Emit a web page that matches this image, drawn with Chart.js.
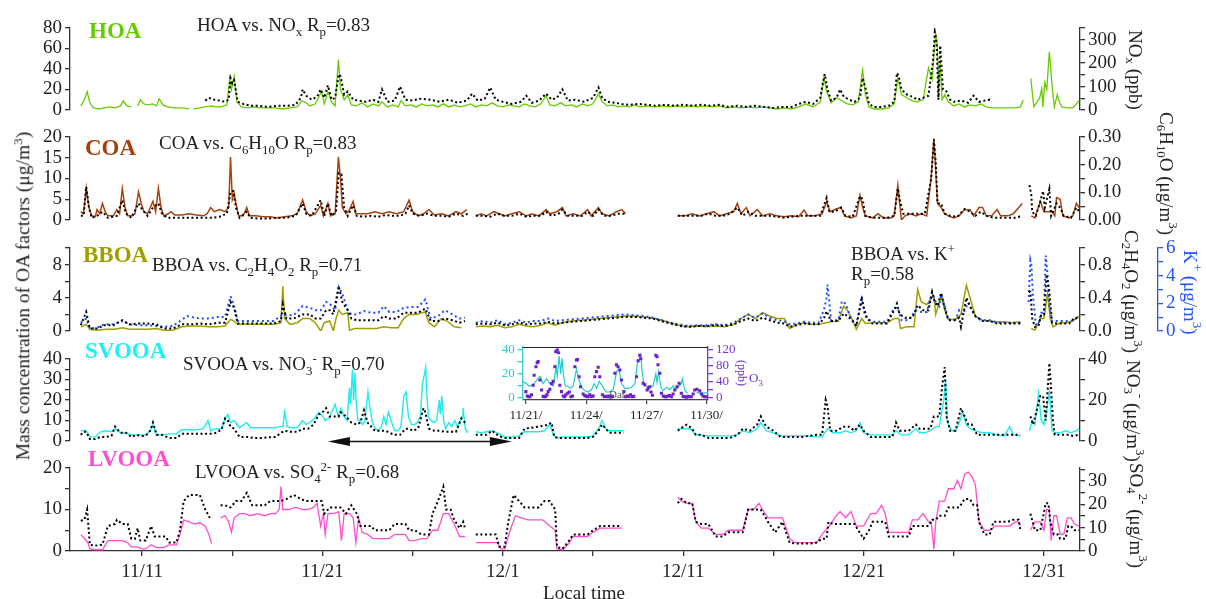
<!DOCTYPE html>
<html><head><meta charset="utf-8">
<script src="https://cdn.jsdelivr.net/npm/chart.js@4"></script>
<style>
body{margin:0;background:#fff;}
#wrap{position:relative;width:1206px;height:599px;overflow:hidden;font-family:'Liberation Serif','Times New Roman',serif;color:#222;}
canvas{position:absolute;}
.t{position:absolute;white-space:nowrap;line-height:1;z-index:5;}
.ann{font-size:19px;}
.ttl{font-size:23px;font-weight:bold;}
.v{writing-mode:vertical-rl;font-size:19px;}
sub,sup{font-size:0.68em;line-height:0;}
</style></head>
<body><div id="wrap">
<div class="t ttl" style="left:89px;top:19px;color:#66cc00">HOA</div>
<div class="t ann" style="left:197px;top:15px">HOA vs. NO<sub>x</sub> R<sub>p</sub>=0.83</div>
<div class="t ttl" style="left:85px;top:136px;color:#a5400d">COA</div>
<div class="t ann" style="left:159px;top:133px">COA vs. C<sub>6</sub>H<sub>10</sub>O R<sub>p</sub>=0.83</div>
<div class="t ttl" style="left:83px;top:243px;color:#9f9f00">BBOA</div>
<div class="t ann" style="left:152px;top:255px">BBOA vs. C<sub>2</sub>H<sub>4</sub>O<sub>2</sub> R<sub>p</sub>=0.71</div>
<div class="t ann" style="left:851px;top:244px">BBOA vs. K<sup>+</sup></div>
<div class="t ann" style="left:851px;top:264px">R<sub>p</sub>=0.58</div>
<div class="t ttl" style="left:85px;top:339px;color:#1ff0f0">SVOOA</div>
<div class="t ann" style="left:183px;top:354px">SVOOA vs. NO<sub>3</sub><sup>-</sup> R<sub>p</sub>=0.70</div>
<div class="t ttl" style="left:88px;top:447px;color:#ff4fd0">LVOOA</div>
<div class="t ann" style="left:195px;top:462px">LVOOA vs. SO<sub>4</sub><sup>2-</sup> R<sub>p</sub>=0.68</div>

<div class="t v" style="left:1126px;top:30px">NO<sub>x</sub> (ppb)</div>
<div class="t v" style="left:1157px;top:112px">C<sub>6</sub>H<sub>10</sub>O (μg/m<sup>3</sup>)</div>
<div class="t v" style="left:1122px;top:230px">C<sub>2</sub>H<sub>4</sub>O<sub>2</sub> (μg/m<sup>3</sup>)</div>
<div class="t v" style="left:1181px;top:250px;color:#2255ff">K<sup>+</sup> (μg/m<sup>3</sup>)</div>
<div class="t v" style="left:1124px;top:360px">NO<sub>3</sub><sup>-</sup> (μg/m<sup>3</sup>)</div>
<div class="t v" style="left:1127px;top:463px">SO<sub>4</sub><sup>2-</sup> (μg/m<sup>3</sup>)</div>

<div class="t" style="left:23px;top:296px;font-size:19.5px;transform:translate(-50%,-50%) rotate(-90deg);">Mass concentration of OA factors (μg/m<sup>3</sup>)</div>
<div class="t" style="left:584px;top:583px;font-size:19px;transform:translateX(-50%)">Local time</div>

<div class="t" style="left:736px;top:360px;font-size:12px;writing-mode:vertical-rl;color:#7030d0">(ppb)</div>
<div class="t" style="left:749px;top:371px;font-size:13px;color:#7030d0">O<sub>3</sub></div>
<div class="t" style="left:609px;top:389px;font-size:11px;color:#555">Dat</div>
</div>
<script>
// ---------- DATA (time = days since 11/1 00:00, so 11/11 = 10) ----------
const xTickVals = [10,15,20,25,30,35,40,45,50,55,60];
const xTickLabels = ['11/11','','11/21','','12/1','','12/11','','12/21','','12/31'];
const insetTickVals = [20,23,26,29];
const insetTickLabels = ['11/21/','11/24/','11/27/','11/30/'];

const hoaTicks=[0,20,40,60,80], hoaLabels=['0','20','40','60','80'];
const noxTicks=[0,50,100,150,200,250,300,350], noxLabels=['0','','100','','200','','300',''];
const coaTicks=[0,5,10,15,20], coaLabels=['0','5','10','15','20'];
const c6Ticks=[0,0.05,0.10,0.15,0.20,0.25,0.30], c6Labels=['0.00','','0.10','','0.20','','0.30'];
const bboaTicks=[0,2,4,6,8,10], bboaLabels=['0','','4','','8',''];
const c2Ticks=[0,0.2,0.4,0.6,0.8,1.0], c2Labels=['0.0','','0.4','','0.8',''];
const kTicks=[0,1,2,3,4,5,6], kLabels=['0','','2','','4','','6'];
const svTicks=[0,5,10,15,20,25,30,35,40], svLabels=['0','','10','','20','','30','','40'];
const no3Ticks=[0,10,20,30,40], no3Labels=['0','','20','','40'];
const lvTicks=[0,5,10,15,20], lvLabels=['0','','10','','20'];
const so4Ticks=[0,5,10,15,20,25,30,35], so4Labels=['0','','10','','20','','30',''];
const inLTicks=[0,10,20,30,40], inLLabels=['0','','20','','40'];
const inRTicks=[0,20,40,60,80,100,120], inRLabels=['0','','40','','80','','120'];
const arrowSpan=[20.3,30.5];

const hoaLine=[[6.6,4],[6.8,10],[6.95,18],[7.1,7],[7.3,2],[7.6,1],[7.9,2],[8.2,3],[8.5,2],[8.8,4],[8.95,9],[9.15,4],[9.4,3],[9.45,null],[9.75,4],[9.9,10],[10.1,6],[10.3,5],[10.6,6],[10.8,4],[10.95,11],[11.15,5],[11.4,3],[11.8,2],[12.2,2],[12.6,1],[12.7,null],[12.85,1],[13.2,2],[13.5,3],[13.8,4],[14.1,3],[14.4,3],[14.7,5],[14.85,30],[14.95,20],[15.1,33],[15.25,8],[15.5,3],[15.8,2],[16.2,3],[16.6,2],[17,2],[17.4,2],[17.8,1],[18.2,2],[18.6,3],[18.85,9],[19.1,7],[19.3,4],[19.6,6],[19.95,18],[20.1,6],[20.3,18],[20.5,8],[20.7,4],[20.88,49],[21.0,20],[21.2,10],[21.4,15],[21.6,5],[21.9,4],[22.2,7],[22.5,3],[22.8,6],[23.1,4],[23.3,8],[23.6,3],[23.9,5],[24.2,3],[24.35,9],[24.6,4],[24.9,5],[25.2,3],[25.5,6],[25.8,4],[26.1,5],[26.4,3],[26.7,6],[27,3],[27.3,5],[27.6,3],[27.9,4],[28.2,6],[28.5,3],[28.8,5],[29.1,4],[29.4,7],[29.7,4],[30,3],[30.3,5],[30.6,4],[30.9,3],[31.2,6],[31.5,4],[31.8,3],[32.1,6],[32.4,14],[32.6,5],[32.9,4],[33.2,7],[33.5,4],[33.8,5],[34.1,3],[34.4,6],[34.7,4],[35.0,6],[35.3,16],[35.5,8],[35.8,4],[36.1,5],[36.4,3],[36.7,4],[37,3],[37.3,5],[37.6,3],[38,4],[38.4,3],[38.8,4],[39.2,3],[39.6,4],[40,3],[40.4,4],[40.8,3],[41.2,4],[41.6,3],[42,4],[42.4,2],[42.8,3],[43.2,2],[43.6,3],[44,2],[44.4,3],[44.8,2],[45.2,1],[45.6,2],[46,1],[46.4,3],[46.8,6],[47.2,3],[47.6,8],[47.8,32],[47.95,18],[48.2,7],[48.5,12],[48.8,9],[49.1,6],[49.4,5],[49.7,8],[49.95,39],[50.1,15],[50.3,3],[50.6,1],[51,1],[51.4,2],[51.7,6],[51.9,31],[52.1,15],[52.4,12],[52.7,9],[53,8],[53.3,10],[53.6,41],[53.8,30],[54.0,75],[54.1,60],[54.15,12],[54.25,46],[54.35,10],[54.5,15],[54.7,8],[55,4],[55.3,6],[55.6,3],[55.9,5],[56.2,4],[56.5,6],[56.8,3],[57.1,2],[57.5,2],[58,2],[58.4,2],[58.7,3],[58.85,10],[58.95,null],[59.27,31],[59.44,3],[59.77,12],[59.88,21],[59.94,3],[60.05,27],[60.16,20],[60.3,57],[60.4,35],[60.47,20],[60.58,3],[60.74,15],[60.85,8],[61.0,3],[61.3,2],[61.6,2],[61.8,6],[61.95,9]];

const noxDots=[[13.5,40],[13.7,52],[14.0,44],[14.3,40],[14.6,35],[14.8,44],[14.9,136],[15.0,114],[15.1,127],[15.3,35],[15.6,26],[16.0,18],[16.5,18],[17.0,13],[17.5,18],[18.0,18],[18.5,22],[18.8,52],[18.9,88],[19.1,61],[19.4,44],[19.7,57],[19.9,88],[20.1,52],[20.3,105],[20.5,44],[20.7,52],[20.9,153],[21.0,144],[21.2,66],[21.4,79],[21.7,44],[22.0,40],[22.4,35],[22.8,44],[23.1,35],[23.3,88],[23.6,35],[24.0,40],[24.3,100],[24.6,44],[25.0,40],[25.4,48],[26.0,44],[26.5,35],[27.0,44],[27.5,31],[28.0,40],[28.3,70],[28.6,40],[29.0,48],[29.3,96],[29.6,44],[30.0,35],[30.5,26],[31.0,35],[31.3,61],[31.6,31],[32.0,40],[32.4,70],[32.7,44],[33.0,52],[33.3,88],[33.6,40],[34.0,44],[34.5,35],[35.0,52],[35.3,96],[35.5,52],[35.8,35],[36.2,31],[36.6,26],[37.0,22],[37.5,26],[38.0,22],[38.5,18],[39.0,22],[39.5,18],[40.0,22],[40.5,18],[41.0,22],[41.5,18],[42.0,22],[42.5,13],[43.0,18],[43.5,13],[44.0,18],[44.5,13],[45.0,9],[45.5,13],[46.0,13],[46.4,26],[46.8,35],[47.2,26],[47.6,52],[47.75,118],[47.85,153],[48.0,88],[48.2,40],[48.5,52],[48.7,88],[48.9,57],[49.2,44],[49.5,35],[49.8,52],[49.95,136],[50.1,96],[50.3,26],[50.6,13],[51.0,13],[51.4,18],[51.7,35],[51.85,158],[51.95,144],[52.1,88],[52.4,66],[52.7,57],[53.0,44],[53.3,52],[53.6,61],[53.85,210],[53.95,333],[54.05,290],[54.15,44],[54.25,275],[54.4,88],[54.6,79],[54.8,44],[55.0,35],[55.4,40],[55.8,31],[56.1,61],[56.4,35],[56.7,40],[57.0,44],[57.1,35]];

const coaLine=[[6.6,2],[6.75,1.5],[6.9,7.7],[7.05,3],[7.2,1],[7.4,0.8],[7.5,2.5],[7.65,1.5],[7.8,4],[7.95,2],[8.1,1],[8.4,1],[8.6,2.5],[8.75,1.5],[8.9,7.6],[9.05,3],[9.2,1],[9.45,1],[9.6,1.5],[9.8,6.8],[9.95,4],[10.1,2],[10.3,1.5],[10.45,3],[10.6,4.5],[10.75,2],[10.9,7.6],[11.05,3],[11.2,1],[11.45,1.5],[11.6,2],[11.8,1.2],[12.2,1.2],[12.6,1.5],[13,1.2],[13.4,1],[13.6,1.5],[13.8,3],[14,2],[14.3,2.5],[14.6,2],[14.8,3],[14.9,15.2],[15.0,5],[15.1,6.5],[15.2,4],[15.35,1],[15.6,1],[15.8,3],[15.95,1],[16.3,1],[16.7,0.8],[17.1,0.8],[17.5,0.5],[17.9,0.8],[18.3,1],[18.6,1.5],[18.9,4.8],[19.1,2],[19.3,1],[19.6,1.5],[19.9,3.6],[20.05,1],[20.3,4],[20.45,1],[20.7,1.5],[20.88,15.2],[21.0,10],[21.1,3],[21.3,1.5],[21.5,2.5],[21.7,4.5],[21.85,1.5],[22.1,1.5],[22.5,1.5],[22.9,2],[23.3,1.5],[23.7,2],[24.1,1.5],[24.5,2],[24.8,4.8],[25.0,2],[25.3,1],[25.6,1.5],[25.9,2.5],[26.2,1.2],[26.6,1.5],[27,1],[27.4,2],[27.7,1.5],[28.0,2.5],[28.1,null],[28.5,1],[28.8,1.5],[29.1,1],[29.5,2],[29.8,1.5],[30.1,1],[30.5,1.5],[30.9,2],[31.3,1],[31.6,1.5],[32,1],[32.4,2.5],[32.6,1.5],[33,2],[33.3,3],[33.5,1],[33.9,1.5],[34.3,1],[34.7,2.5],[34.9,1],[35.3,3],[35.5,1.5],[35.9,1],[36.3,2],[36.6,2.5],[36.8,1.5],[36.85,null],[39.7,1],[40.1,1],[40.5,1.5],[40.9,1],[41.3,1.5],[41.7,2],[42,1],[42.4,1.5],[42.8,2],[43.0,4],[43.2,1.5],[43.5,3],[43.7,1],[44.1,2.5],[44.4,1],[44.8,1.5],[45.2,1],[45.6,0.8],[46,1],[46.4,0.8],[46.7,2.4],[46.9,1],[47.3,1],[47.7,1.5],[47.95,4.4],[48.15,2],[48.5,2.7],[48.75,3],[48.95,1],[49.3,0.5],[49.6,1],[49.8,6],[49.95,3],[50.1,1],[50.5,0.5],[50.8,1.5],[51.1,0.5],[51.5,0.5],[51.7,1],[51.9,8.4],[52.0,4],[52.1,0],[52.3,1],[52.6,1.5],[52.9,1],[53.2,1.5],[53.5,1],[53.75,10.4],[53.9,19.7],[54.0,12],[54.1,4],[54.3,3],[54.5,1.5],[54.7,1],[55,0.5],[55.3,1],[55.6,2.5],[55.9,2.5],[56.1,1],[56.4,3],[56.6,3],[56.8,1],[57.1,1],[57.4,2.5],[57.6,1],[58,1],[58.3,1.5],[58.7,3.5],[58.8,4],[58.85,null],[59.3,1],[59.5,0.5],[59.8,4.5],[60,2],[60.2,2],[60.45,2],[60.6,1],[60.7,5.4],[60.9,5],[61.05,1],[61.4,0.5],[61.6,1],[61.8,4],[61.95,3]];

const c6Dots=[[6.6,0.015],[6.75,0.015],[6.9,0.12],[7.05,0.045],[7.2,0.008],[7.5,0.015],[7.8,0.03],[8.1,0.008],[8.6,0.015],[8.9,0.072],[9.1,0.023],[9.4,0.008],[9.8,0.06],[10.0,0.038],[10.3,0.015],[10.6,0.045],[10.9,0.06],[11.1,0.023],[11.4,0.008],[11.8,0.008],[12.3,0.008],[12.7,0.008],[13.1,0.008],[13.5,0.008],[13.9,0.008],[14.3,0.012],[14.7,0.023],[14.9,0.102],[15.05,0.105],[15.2,0.045],[15.4,0.008],[15.8,0.03],[16.0,0.008],[16.5,0.005],[17.0,0.005],[17.5,0.008],[18.0,0.008],[18.5,0.015],[18.9,0.06],[19.1,0.023],[19.4,0.015],[19.9,0.072],[20.1,0.015],[20.3,0.06],[20.5,0.015],[20.75,0.03],[20.9,0.17],[21.05,0.165],[21.2,0.045],[21.4,0.015],[21.7,0.053],[21.9,0.015],[22.3,0.012],[22.7,0.015],[23.1,0.012],[23.5,0.018],[23.9,0.015],[24.3,0.015],[24.6,0.023],[24.8,0.053],[25.0,0.023],[25.4,0.015],[25.8,0.023],[26.2,0.015],[26.6,0.015],[27.0,0.012],[27.4,0.023],[27.8,0.015],[28.05,0.023],[28.1,null],[28.5,0.015],[28.9,0.015],[29.3,0.012],[29.7,0.023],[30.1,0.015],[30.5,0.015],[30.9,0.023],[31.3,0.012],[31.7,0.015],[32.1,0.015],[32.4,0.03],[32.7,0.015],[33.1,0.023],[33.3,0.038],[33.6,0.015],[34.0,0.015],[34.4,0.015],[34.7,0.03],[35.0,0.015],[35.3,0.038],[35.6,0.015],[36.0,0.015],[36.4,0.023],[36.8,0.023],[36.85,null],[39.7,0.015],[40.2,0.015],[40.6,0.015],[41.0,0.015],[41.4,0.023],[41.8,0.015],[42.2,0.015],[42.6,0.023],[43.0,0.045],[43.3,0.015],[43.6,0.03],[44.0,0.015],[44.4,0.015],[44.8,0.015],[45.2,0.012],[45.6,0.008],[46.0,0.012],[46.4,0.015],[46.8,0.015],[47.2,0.015],[47.6,0.015],[47.95,0.08],[48.1,0.03],[48.4,0.03],[48.75,0.045],[49.0,0.015],[49.4,0.012],[49.8,0.086],[49.95,0.075],[50.1,0.015],[50.5,0.008],[50.9,0.008],[51.3,0.008],[51.7,0.015],[51.9,0.114],[52.0,0.075],[52.2,0.023],[52.6,0.023],[53.0,0.023],[53.4,0.023],[53.75,0.15],[53.9,0.29],[54.0,0.21],[54.1,0.06],[54.3,0.06],[54.5,0.023],[54.8,0.015],[55.2,0.012],[55.6,0.04],[55.9,0.03],[56.2,0.015],[56.5,0.03],[56.8,0.015],[57.2,0.008],[57.6,0.008],[58.0,0.008],[58.4,0.008],[58.8,0.015],[58.9,null],[59.2,0.126],[59.3,0.09],[59.35,0.03],[59.55,0.015],[59.8,0.068],[59.95,0.105],[60.05,0.045],[60.3,0.112],[60.4,0.015],[60.7,0.06],[60.9,0.045],[61.1,0.015],[61.5,0.008],[61.8,0.045],[61.95,0.03]];

const bboaLine=[[6.6,0.5],[6.9,0.8],[7.1,0.2],[7.5,0.1],[8,0.2],[8.5,0.2],[8.9,0.4],[9.3,0.2],[9.8,0.2],[10.3,0.2],[10.8,0.3],[11.2,0.1],[11.7,0.1],[12.2,0.5],[12.7,0.6],[13.2,0.6],[13.7,0.5],[14.2,0.5],[14.6,0.6],[14.9,1.4],[15.1,1.2],[15.3,0.8],[15.8,0.8],[16.3,0.8],[16.8,0.8],[17.3,0.8],[17.7,1.0],[17.8,5.4],[17.9,1.5],[18.2,0.8],[18.6,1.0],[18.9,1.5],[19.3,1.5],[19.6,1.0],[19.9,0],[20.1,1.0],[20.4,1.2],[20.6,0],[20.75,1.5],[20.9,2.5],[21.1,2.0],[21.4,2.2],[21.5,0.1],[21.8,0.3],[22.2,0.3],[22.6,0.3],[23,0.3],[23.4,0.5],[23.8,0.4],[24.2,0.4],[24.5,1.5],[24.8,2],[25.2,2],[25.5,2.2],[25.7,2.3],[25.9,1],[26.2,0.5],[26.6,1.5],[26.9,1.2],[27.3,0.5],[27.7,0.4],[28.1,null],[28.5,0.5],[28.9,0.6],[29.3,0.5],[29.7,0.7],[30.1,0.4],[30.5,0.5],[30.9,0.8],[31.3,0.6],[31.7,0.5],[32.1,0.7],[32.5,1.0],[32.9,0.7],[33.3,1.0],[33.8,1.2],[34.3,1.3],[34.8,1.4],[35.3,1.5],[35.8,1.6],[36.3,1.7],[36.8,1.8],[37.3,1.8],[37.8,1.7],[38.3,1.6],[38.8,1.3],[39.3,1.0],[39.8,0.7],[40.3,0.5],[40.8,0.6],[41.3,0.5],[41.8,0.6],[42.3,0.5],[42.8,0.8],[43.2,1.5],[43.6,2.0],[44.0,1.5],[44.4,2.2],[44.8,1.8],[45.2,1.5],[45.6,1.5],[45.9,0.3],[46.3,0.8],[46.7,1.0],[47.1,0.8],[47.5,0.8],[47.9,1.0],[48.2,1.1],[48.6,1.2],[48.9,3.0],[49.1,2.5],[49.35,1.5],[49.6,0.2],[49.9,1.5],[50.1,0.9],[50.5,1.0],[50.9,1.0],[51.3,1.0],[51.7,1.5],[51.95,1.5],[52.05,0.3],[52.4,0.5],[52.8,0.5],[53.0,5],[53.2,3.5],[53.5,3.2],[53.7,3.8],[53.9,4.2],[54.0,2],[54.3,4.2],[54.5,2.5],[54.7,1.4],[55.1,1.4],[55.4,2],[55.7,5.5],[55.9,4],[56.2,1.8],[56.6,1.3],[57.0,1.2],[57.4,1.1],[57.8,1.1],[58.2,1.0],[58.7,1.1],[58.8,null],[59.3,0.3],[59.5,0.1],[59.8,1.5],[60.0,1.5],[60.2,4.5],[60.35,1.5],[60.5,0.5],[60.9,1],[61.3,1],[61.6,1.2],[61.95,1.8]];

const c2Dots=[[6.6,0.07],[6.9,0.23],[7.1,0.03],[7.5,0.03],[7.9,0.07],[8.4,0.07],[8.9,0.13],[9.3,0.08],[9.8,0.09],[10.3,0.09],[10.8,0.08],[11.2,0.03],[11.7,0.03],[12.2,0.08],[12.7,0.08],[13.2,0.09],[13.7,0.08],[14.2,0.10],[14.6,0.10],[14.9,0.35],[15.1,0.28],[15.3,0.09],[15.8,0.09],[16.3,0.09],[16.8,0.09],[17.3,0.09],[17.7,0.12],[17.8,0.32],[18.0,0.15],[18.4,0.15],[18.9,0.20],[19.3,0.20],[19.6,0.15],[19.9,0.15],[20.2,0.25],[20.4,0.25],[20.6,0.20],[20.9,0.54],[21.1,0.35],[21.4,0.25],[21.6,0.15],[21.9,0.13],[22.3,0.13],[22.7,0.13],[23.1,0.13],[23.4,0.18],[23.7,0.15],[24.1,0.15],[24.5,0.22],[24.9,0.22],[25.3,0.22],[25.7,0.27],[26.0,0.12],[26.4,0.12],[26.8,0.15],[27.2,0.13],[27.6,0.10],[27.9,0.12],[28.1,null],[28.5,0.08],[28.9,0.09],[29.3,0.08],[29.7,0.10],[30.1,0.07],[30.5,0.08],[30.9,0.10],[31.3,0.08],[31.7,0.09],[32.1,0.09],[32.5,0.11],[32.9,0.09],[33.3,0.10],[33.8,0.11],[34.3,0.12],[34.8,0.13],[35.3,0.14],[35.8,0.15],[36.3,0.16],[36.8,0.17],[37.3,0.17],[37.8,0.16],[38.3,0.15],[38.8,0.12],[39.3,0.09],[39.8,0.06],[40.3,0.05],[40.8,0.06],[41.3,0.06],[41.8,0.07],[42.3,0.06],[42.8,0.08],[43.2,0.12],[43.6,0.15],[44.0,0.12],[44.4,0.16],[44.8,0.13],[45.2,0.10],[45.6,0.09],[45.9,0.05],[46.3,0.07],[46.7,0.09],[47.1,0.08],[47.5,0.08],[47.8,0.15],[47.95,0.24],[48.2,0.12],[48.6,0.12],[48.9,0.21],[49.1,0.18],[49.35,0.13],[49.6,0.06],[49.9,0.38],[50.05,0.25],[50.2,0.15],[50.5,0.09],[50.9,0.09],[51.3,0.09],[51.7,0.25],[51.85,0.33],[52.0,0.20],[52.3,0.16],[52.7,0.16],[53.0,0.31],[53.3,0.25],[53.6,0.25],[53.8,0.47],[53.95,0.35],[54.1,0.30],[54.3,0.46],[54.5,0.28],[54.7,0.13],[55.1,0.13],[55.3,0.16],[55.4,0.05],[55.7,0.40],[55.9,0.30],[56.2,0.18],[56.6,0.12],[57.0,0.12],[57.4,0.09],[57.8,0.09],[58.2,0.09],[58.7,0.09],[58.8,null],[59.15,0.48],[59.25,0.47],[59.35,0.15],[59.5,0.05],[59.7,0.06],[59.85,0.20],[60.0,0.20],[60.15,0.68],[60.3,0.47],[60.45,0.10],[60.7,0.09],[61.0,0.09],[61.4,0.09],[61.7,0.16],[61.95,0.16]];

const kDots=[[6.6,0.6],[6.9,0.9],[7.1,0.18],[7.5,0.24],[7.9,0.48],[8.4,0.48],[8.9,0.72],[9.3,0.48],[9.8,0.42],[10.3,0.42],[10.8,0.36],[11.2,0.3],[11.7,0.36],[12.1,0.72],[12.5,1.08],[12.9,0.96],[13.3,0.9],[13.7,0.9],[14.2,1.02],[14.6,1.02],[14.9,2.52],[15.1,1.8],[15.3,0.72],[15.8,0.72],[16.3,0.72],[16.8,0.72],[17.3,0.72],[17.8,1.2],[18.0,1.14],[18.4,1.14],[18.9,1.8],[19.3,1.68],[19.6,1.5],[19.9,1.5],[20.2,2.1],[20.4,1.98],[20.7,1.5],[20.9,3.18],[21.1,2.7],[21.4,1.5],[21.6,1.2],[21.9,1.2],[22.3,1.44],[22.7,1.32],[23.1,1.32],[23.4,1.8],[23.7,1.38],[24.1,1.38],[24.5,1.68],[24.9,1.74],[25.3,1.74],[25.7,2.28],[26.0,0.9],[26.4,1.08],[26.8,1.5],[27.2,1.2],[27.6,0.9],[27.9,0.96],[28.1,null],[28.5,0.6],[28.9,0.72],[29.3,0.6],[29.7,0.78],[30.1,0.48],[30.5,0.6],[30.9,0.78],[31.3,0.6],[31.7,0.72],[32.1,0.72],[32.5,0.9],[32.9,0.72],[33.3,0.78],[33.8,0.84],[34.3,0.9],[34.8,0.96],[35.3,1.02],[35.8,1.08],[36.3,1.14],[36.8,1.2],[37.3,1.14],[37.8,1.08],[38.3,0.96],[38.8,0.78],[39.3,0.6],[39.8,0.48],[40.3,0.36],[40.8,0.42],[41.3,0.42],[41.8,0.48],[42.3,0.42],[42.8,0.6],[43.2,0.9],[43.6,1.2],[44.0,0.96],[44.4,1.26],[44.8,0.96],[45.2,0.78],[45.6,0.72],[45.9,0.48],[46.3,0.54],[46.7,0.66],[47.1,0.6],[47.5,0.6],[47.8,1.5],[47.95,2.4],[48.0,3.36],[48.2,0.78],[48.6,0.78],[48.8,2.16],[49.0,1.98],[49.3,0.9],[49.6,0.48],[49.9,2.52],[50.05,1.2],[50.2,0.9],[50.5,0.66],[50.9,0.66],[51.3,0.66],[51.7,1.68],[51.9,1.68],[52.1,0.78],[52.5,0.78],[52.9,1.5],[53.2,1.38],[53.5,1.38],[53.8,2.76],[54.0,2.1],[54.2,1.8],[54.3,2.64],[54.5,1.8],[54.7,0.84],[55.1,0.84],[55.3,1.5],[55.5,1.2],[55.8,2.04],[56.0,1.5],[56.3,0.9],[56.6,0.78],[57.0,0.78],[57.4,0.6],[57.8,0.6],[58.2,0.6],[58.7,0.6],[58.8,null],[59.15,2.1],[59.25,5.1],[59.3,4.8],[59.4,2.4],[59.55,0.48],[59.7,0.48],[59.85,1.32],[60.0,1.32],[60.1,5.46],[60.2,4.08],[60.3,1.8],[60.45,0.72],[60.8,0.72],[61.2,0.72],[61.6,0.72],[61.95,1.08]];

const svooaLine=[[6.6,5],[6.75,5],[6.9,5],[7.1,2],[7.4,2],[7.7,4.5],[8.0,5],[8.3,4.5],[8.5,6],[8.8,4],[9.1,4],[9.4,3],[9.7,3],[9.9,3],[10.2,3],[10.45,5],[10.6,8],[10.8,3],[11.1,3],[11.5,3.5],[11.9,3.5],[12.2,5.5],[12.6,5.5],[13.0,5.5],[13.4,6],[13.65,10],[13.8,5],[14.1,6],[14.4,6],[14.6,11],[14.75,13],[14.9,9],[15.1,10],[15.4,6.5],[15.8,9],[16.0,6.5],[16.5,6.5],[17.0,6.5],[17.4,6.5],[17.6,7],[17.8,7],[17.9,14],[18.05,7],[18.3,6.5],[18.6,6.5],[18.9,10],[19.1,8],[19.3,9],[19.55,11],[19.8,14],[20.0,12.2],[20.15,10],[20.36,11],[20.5,14],[20.7,18],[20.86,12],[21.03,16],[21.19,12],[21.36,10],[21.5,26],[21.56,18],[21.66,35],[21.73,20],[21.8,33],[21.86,20],[21.96,10],[22.07,10],[22.24,8],[22.35,10],[22.52,24],[22.65,15],[22.77,9],[22.94,6],[23.1,5],[23.27,7],[23.4,12],[23.52,8],[23.65,14],[23.77,11],[23.88,8],[24.0,5],[24.18,5],[24.35,7],[24.51,22],[24.64,24],[24.76,12],[24.93,8],[25.1,8],[25.26,9],[25.43,12],[25.54,28],[25.64,32],[25.72,36],[25.79,22],[25.87,12],[26.0,10],[26.17,9],[26.33,10],[26.47,20],[26.53,13],[26.61,22],[26.71,10],[26.83,6],[27.0,9],[27.16,7],[27.33,10],[27.49,7],[27.63,10],[27.74,12],[27.79,16],[27.92,6],[28.05,4],[28.1,null],[28.5,4.5],[28.8,4],[29.1,4.5],[29.4,5],[29.7,4],[29.9,3],[30.1,2],[30.5,2],[30.9,2.5],[31.2,4.5],[31.6,4.5],[32.0,4.5],[32.3,5],[32.6,8],[32.8,3],[33.0,1.5],[33.4,2],[33.8,2],[34.2,2],[34.6,2],[35.0,2.5],[35.3,6],[35.5,10],[35.7,6],[35.9,5],[36.3,5],[36.7,5],[36.8,null],[39.7,6],[40.0,6],[40.4,6],[40.7,3],[41.0,3],[41.4,2.5],[41.8,2.5],[42.2,2.5],[42.6,2.5],[43.0,3],[43.3,5],[43.7,4],[44.1,6],[44.3,9],[44.6,5],[45.0,4],[45.4,2.5],[45.8,2.5],[46.2,2.5],[46.6,2.5],[47.0,2.5],[47.4,2],[47.7,2],[48.0,6],[48.3,4],[48.7,4],[49.0,5],[49.3,4],[49.6,5],[49.8,9],[50.0,4],[50.4,3],[50.8,3],[51.2,3],[51.6,3],[51.8,5],[52.1,3],[52.5,3],[52.9,6],[53.1,4],[53.4,4],[53.7,5],[54.0,7],[54.2,7],[54.45,20],[54.55,30],[54.65,9],[54.9,5],[55.1,5],[55.35,10],[55.5,14],[55.7,8],[55.9,6],[56.2,5],[56.6,4],[57.0,4],[57.4,3],[57.8,2.5],[58.1,7],[58.3,3],[58.7,2.5],[58.8,null],[59.2,5],[59.35,10],[59.5,8],[59.7,23],[59.85,10],[60.0,8],[60.15,15],[60.3,24],[60.45,5],[60.6,4],[60.9,4],[61.2,5],[61.5,4],[61.8,5],[61.95,6]];

const no3Dots=[[6.6,3],[6.75,4.5],[6.9,4.5],[7.1,1],[7.4,1],[7.7,2],[8.0,2],[8.3,2.5],[8.5,7],[8.8,4],[9.1,4],[9.4,2],[9.7,3],[9.9,2.5],[10.2,2.5],[10.45,5],[10.6,9],[10.8,3],[11.1,3],[11.5,1.5],[11.9,1.5],[12.2,3.5],[12.6,3.5],[13.0,3.5],[13.4,3.5],[13.8,3.5],[14.1,4],[14.4,5.5],[14.6,11],[14.75,10],[14.9,7],[15.1,6],[15.4,2],[15.8,2],[16.2,1.5],[16.6,1.5],[17.0,1.8],[17.4,2],[17.7,4],[17.9,5],[18.2,4.5],[18.6,4.5],[18.9,6],[19.2,6],[19.5,8],[19.8,13],[20.0,14],[20.2,16],[20.4,12],[20.7,12],[20.9,12],[21.0,14],[21.3,12],[21.6,9],[21.9,8],[22.1,9],[22.3,15],[22.5,9],[22.7,7],[22.9,5],[23.2,5],[23.5,5],[23.7,4],[24.0,3],[24.3,3],[24.6,6],[24.8,6],[25.0,5],[25.3,6],[25.6,16],[25.7,14],[25.9,6],[26.2,5],[26.5,5],[26.8,4.5],[27.1,4.5],[27.4,4.5],[27.7,11],[27.8,10],[28.0,8],[28.1,null],[28.5,3],[28.8,3],[29.1,3],[29.4,5],[29.7,3],[29.9,2],[30.1,1.5],[30.5,1.5],[30.9,1.5],[31.2,6],[31.6,6.5],[32.0,7],[32.3,7.5],[32.5,8],[32.7,9],[32.85,2],[33.1,1.5],[33.5,1.5],[33.9,1.5],[34.3,1.5],[34.7,1.5],[35.0,2],[35.3,5],[35.5,8],[35.7,6],[35.9,4],[36.3,4],[36.7,4],[36.8,null],[39.7,5],[40.0,7],[40.2,8],[40.5,6],[40.7,3],[41.0,3],[41.4,1.5],[41.8,1.5],[42.2,1.5],[42.6,1.5],[43.0,3],[43.3,6],[43.7,5],[44.1,8],[44.3,12],[44.6,7],[45.0,5],[45.4,2],[45.8,2],[46.2,2],[46.6,2],[47.0,2.5],[47.4,3],[47.7,3],[47.9,20],[48.0,17],[48.15,5],[48.5,5],[48.9,7],[49.2,7],[49.5,5],[49.8,8],[50.0,5],[50.4,2],[50.8,2],[51.2,2],[51.6,2],[51.8,9],[52.0,5],[52.5,5],[52.9,8],[53.1,6],[53.4,6],[53.7,6],[53.9,12],[54.2,12],[54.35,26],[54.45,33],[54.5,36],[54.6,12],[54.8,5],[55.1,5],[55.4,16],[55.6,12],[55.8,8],[56.0,8],[56.3,3],[56.7,3],[57.1,3],[57.5,3],[57.9,3],[58.3,3],[58.7,3],[58.8,null],[59.25,12],[59.4,8],[59.6,15],[59.8,22],[59.95,22],[60.1,10],[60.3,38],[60.35,32],[60.4,25],[60.5,10],[60.6,3],[60.9,3],[61.3,3],[61.6,2.5],[61.95,3]];

const lvooaLine=[[6.6,3.9],[6.8,3],[7.0,2],[7.1,0.5],[7.4,0.3],[7.8,0.3],[8.1,2.5],[8.5,2.5],[8.9,2.5],[9.2,2],[9.4,1],[9.7,1],[10.0,0.5],[10.2,0.5],[10.5,1.5],[10.8,0.8],[11.2,0.8],[11.5,1.5],[11.9,1.5],[12.1,4],[12.3,7.5],[12.6,7],[12.9,6.5],[13.2,6.8],[13.5,6],[13.7,4],[13.85,1.8],[13.9,null],[14.35,8],[14.6,8.5],[14.8,7],[14.95,4.5],[15.1,8],[15.4,9],[15.7,9],[16.0,8.5],[16.4,9],[16.8,8.5],[17.1,9],[17.4,9],[17.6,10],[17.7,15.5],[17.8,10],[18.1,10],[18.5,10.5],[18.9,10],[19.2,10],[19.5,10.5],[19.7,11.5],[19.9,6],[20.05,9],[20.15,4],[20.3,9],[20.6,9],[20.9,9.5],[21.05,2.5],[21.2,9],[21.5,9],[21.7,8],[21.85,2],[22.0,8],[22.2,4.5],[22.5,4],[22.8,3],[23.1,3],[23.4,3],[23.7,3],[24.0,4],[24.3,4],[24.6,4],[24.8,2.5],[25.1,2.5],[25.5,3],[25.8,3],[26.1,5],[26.4,5],[26.7,9],[27.0,9],[27.3,6.5],[27.6,3.5],[27.9,3.5],[27.95,null],[28.5,2],[28.9,2],[29.3,2],[29.7,2],[29.9,0.5],[30.1,0.5],[30.4,5],[30.7,8.5],[31.0,8],[31.4,7.5],[31.8,7.5],[32.2,7.5],[32.6,6],[32.9,5],[33.0,0.5],[33.3,0.3],[33.6,1.5],[33.9,3.5],[34.3,3.5],[34.7,3.5],[35.0,4.5],[35.4,5.5],[35.8,5.5],[36.2,5.5],[36.6,5.5],[36.7,null],[39.7,13],[39.9,12],[40.2,11.5],[40.5,11.5],[40.7,7],[41.0,5.5],[41.4,5.5],[41.8,4],[42.2,4],[42.5,5],[42.9,5],[43.3,5],[43.6,10],[43.9,10],[44.2,11.5],[44.4,10],[44.7,8],[45.1,8],[45.5,8],[45.9,3],[46.2,2],[46.6,2],[47.0,2],[47.4,2],[47.7,4],[47.9,5],[48.1,6],[48.4,8],[48.7,9.5],[49.0,8],[49.3,9.5],[49.6,6],[50.0,6],[50.4,9],[50.7,9],[51.0,11],[51.2,9],[51.4,4.5],[51.8,4.5],[52.2,4.5],[52.5,4.5],[52.7,7.5],[53.0,7.5],[53.3,9],[53.6,7],[53.75,7],[53.9,0.5],[54.0,7],[54.2,12],[54.5,12],[54.7,15],[55.0,15],[55.2,17],[55.4,15],[55.6,18.5],[55.8,19],[56.0,18],[56.2,16],[56.4,7],[56.7,5],[57.0,5],[57.3,6],[57.7,6],[58.1,6],[58.4,7],[58.6,7],[58.7,6],[58.75,null],[59.25,5],[59.5,7],[59.8,7],[60.0,5],[60.15,10],[60.3,10],[60.4,2.5],[60.55,8.5],[60.7,8.5],[60.9,4],[61.1,4],[61.3,8],[61.5,8],[61.7,6.5],[61.95,6]];

const so4Dots=[[6.6,13.0],[6.8,13.4],[6.95,17.8],[7.1,2.7],[7.4,2.3],[7.8,2.7],[8.1,10.7],[8.5,11.6],[8.6,13.4],[8.9,11.6],[9.2,11.6],[9.4,5.3],[9.6,5.3],[9.75,9.8],[9.9,4.5],[10.2,4.5],[10.5,10.7],[10.7,6.2],[11.0,6.2],[11.3,6.2],[11.5,3.6],[11.9,3.6],[12.1,8.9],[12.3,21.4],[12.6,24.0],[12.9,24.0],[13.2,24.0],[13.5,17.8],[13.75,14.2],[13.9,null],[14.35,19.6],[14.6,19.6],[14.9,18.7],[15.2,21.4],[15.5,21.4],[15.8,24.9],[16.1,19.6],[16.5,19.6],[16.8,19.6],[17.1,21.4],[17.4,21.4],[17.7,21.4],[18.0,22.3],[18.4,24.0],[18.8,22.3],[19.1,21.4],[19.5,21.4],[19.8,21.4],[19.95,21.4],[20.1,16.0],[20.4,18.7],[20.7,18.7],[21.0,18.7],[21.3,16.0],[21.6,19.6],[21.9,16.0],[22.1,10.7],[22.4,10.7],[22.7,10.7],[22.9,8.9],[23.3,8.9],[23.7,8.9],[24.0,11.6],[24.3,11.6],[24.6,11.6],[24.8,8.9],[25.1,8.9],[25.5,7.1],[25.9,7.1],[26.1,16.0],[26.4,21.4],[26.7,27.6],[26.85,17.8],[27.1,17.8],[27.3,13.4],[27.6,9.8],[27.8,12.5],[27.9,9.8],[27.95,null],[28.5,7.1],[28.9,7.1],[29.3,7.1],[29.6,7.1],[29.8,1.8],[30.1,1.8],[30.3,12.5],[30.6,24.0],[30.9,21.4],[31.2,18.7],[31.6,18.7],[32.0,18.7],[32.3,21.4],[32.6,21.4],[32.9,17.8],[33.0,1.8],[33.3,0.9],[33.6,3.6],[33.9,7.1],[34.3,7.1],[34.7,7.1],[35.0,8.9],[35.4,10.7],[35.8,10.7],[36.2,10.7],[36.6,10.7],[36.7,null],[39.7,20.5],[39.9,22.3],[40.2,20.5],[40.5,20.5],[40.7,12.5],[41.0,11.6],[41.4,11.6],[41.8,6.2],[42.2,6.2],[42.5,8.0],[42.9,8.0],[43.3,8.0],[43.6,17.8],[43.9,17.8],[44.3,17.8],[44.7,12.5],[45.1,8.0],[45.5,12.5],[45.9,3.6],[46.2,3.2],[46.6,3.2],[47.0,3.2],[47.4,3.6],[47.7,5.3],[47.95,5.3],[48.05,12.5],[48.3,11.6],[48.7,11.6],[49.1,11.6],[49.5,11.6],[49.7,8.9],[50.0,5.3],[50.3,8.9],[50.5,12.5],[50.9,12.5],[51.2,12.5],[51.4,6.2],[51.8,6.2],[52.2,6.2],[52.5,6.2],[52.7,10.7],[53.0,10.7],[53.3,10.7],[53.6,10.7],[53.8,13.4],[54.0,13.4],[54.2,15.1],[54.5,15.1],[54.7,18.7],[55.0,18.7],[55.3,18.7],[55.6,22.3],[55.9,22.3],[56.1,19.6],[56.3,19.6],[56.4,12.5],[56.7,7.1],[57.0,7.1],[57.2,12.5],[57.6,12.5],[58.0,12.5],[58.3,13.4],[58.6,13.4],[58.7,8.9],[58.75,null],[59.25,16.0],[59.5,8.9],[59.8,8.9],[60.1,20.5],[60.25,20.5],[60.35,12.5],[60.55,7.1],[60.8,7.1],[60.9,5.3],[61.2,5.3],[61.35,10.7],[61.5,10.7],[61.7,8.9],[61.95,8.9]];

const o3Dots=[[20.0,16],[20.07,5],[20.13,3],[20.2,3],[20.28,8],[20.36,32],[20.41,57],[20.5,78],[20.56,88],[20.61,91],[20.7,45],[20.78,20],[20.86,4],[20.93,3],[20.99,4],[21.05,8],[21.11,16],[21.19,22],[21.28,36],[21.36,42],[21.44,78],[21.49,116],[21.56,120],[21.63,113],[21.69,32],[21.77,16],[21.86,5],[21.93,3],[21.99,8],[22.08,12],[22.16,15],[22.24,3],[22.32,5],[22.44,78],[22.52,95],[22.57,96],[22.65,53],[22.72,28],[22.85,10],[22.93,6],[23.02,4],[23.1,3],[23.18,8],[23.27,4],[23.35,5],[23.43,53],[23.52,66],[23.6,77],[23.68,53],[23.81,8],[23.9,3],[23.98,4],[24.07,3],[24.15,5],[24.23,2],[24.31,4],[24.43,62],[24.51,83],[24.59,78],[24.68,70],[24.76,45],[24.88,16],[24.96,3],[25.04,5],[25.13,4],[25.21,8],[25.29,3],[25.37,4],[25.51,53],[25.59,93],[25.67,107],[25.72,98],[25.84,37],[25.92,33],[26.04,20],[26.1,25],[26.17,28],[26.23,15],[26.3,7],[26.47,107],[26.53,103],[26.58,83],[26.67,62],[26.75,12],[26.84,5],[26.92,3],[27.0,3],[27.08,5],[27.16,6],[27.25,3],[27.33,10],[27.41,20],[27.53,28],[27.63,37],[27.74,12],[27.83,4],[27.91,3],[28.0,2],[28.08,4],[28.16,3],[28.24,3],[28.33,10],[28.41,20],[28.52,22],[28.66,18],[28.74,10],[28.82,5],[28.9,3],[28.99,3]];

// ---------- STYLE / LAYOUT ----------
const C = {hoa:'#66cc00', coa:'#a8420f', bboa:'#9f9f00', k:'#1e4fff', sv:'#1fecec', lv:'#ff4fd0', o3:'#6a22cc', inCyan:'#22cccc', axis:'#333'};
Chart.defaults.font.family = "'Liberation Serif','Times New Roman',serif";
Chart.defaults.font.size = 19;
Chart.defaults.color = '#222';
const wrap = document.getElementById('wrap');
const pts = a => a.map(p => ({x:p[0], y:p[1]}));

function yAxis(pos, min, max, vals, labels, width, color, weight, fs) {
  const col = color || C.axis;
  return {
    type:'linear', position:pos, min, max, weight: weight||0,
    afterBuildTicks: s => { s.ticks = vals.map(v => ({value:v})); },
    afterFit: s => { s.width = width; },
    ticks:{ callback:(v,i) => labels[i], color: color || '#222', padding:3, autoSkip:false, maxRotation:0, font:{size: fs||19} },
    grid:{ display:true, drawOnChartArea:false, drawTicks:true, tickLength:5, color: col, lineWidth:1.3 },
    border:{ display:true, color: col, width:1.3 }
  };
}
const hiddenX = {type:'linear', min:6, max:62, display:false};
const bottomX = {
  type:'linear', min:6, max:62, position:'bottom',
  afterBuildTicks: s => { s.ticks = xTickVals.map(v => ({value:v})); },
  afterFit: s => { s.height = 48; },
  ticks:{ callback:(v,i) => xTickLabels[i], padding:5, autoSkip:false, maxRotation:0, color:'#222' },
  grid:{ display:true, drawOnChartArea:false, drawTicks:true, tickLength:5, color:C.axis, lineWidth:1.3 },
  border:{ display:true, color:C.axis, width:1.3 }
};
function lineDs(data, color, axis, width, order) {
  return {data: pts(data), borderColor: color, borderWidth: width||1.3, pointRadius:0, yAxisID: axis, order: order||1, fill:false, spanGaps:false, tension:0};
}
function dotDs(data, color, axis, order) {
  return {data: pts(data), borderColor: color, borderWidth: 2, borderDash:[2,2.6], pointRadius:0, yAxisID: axis, order: order||0, fill:false, spanGaps:false, tension:0};
}
function makeChart(left, top, w, h, pad, scales, datasets, plugins) {
  const c = document.createElement('canvas');
  c.width = w; c.height = h; c.style.left = left+'px'; c.style.top = top+'px';
  wrap.appendChild(c);
  return new Chart(c, {type:'line', data:{datasets}, options:{
    responsive:false, animation:false, devicePixelRatio:1, events:[],
    layout:{padding:pad},
    plugins:{legend:{display:false}, tooltip:{enabled:false}},
    scales
  }, plugins: plugins||[]});
}

// Panel 1: HOA / NOx
makeChart(0, 0, 1206, 126, {top:28, bottom:16, left:0, right:0},
  {x:hiddenX, yL:yAxis('left',0,80,hoaTicks,hoaLabels,70), yR:yAxis('right',0,350,noxTicks,noxLabels,126)},
  [dotDs(noxDots,'#000','yR',0), lineDs(hoaLine,C.hoa,'yL',1.3,1)]);
// Panel 2: COA / C6H10O
makeChart(0, 122, 1206, 114, {top:15, bottom:16, left:0, right:0},
  {x:hiddenX, yL:yAxis('left',0,20,coaTicks,coaLabels,70), yR:yAxis('right',0,0.30,c6Ticks,c6Labels,126)},
  [dotDs(c6Dots,'#000','yR',0), lineDs(coaLine,C.coa,'yL',1.5,1)]);
// Panel 3: BBOA / C2H4O2 / K+
makeChart(0, 232, 1206, 114, {top:16, bottom:15, left:0, right:0},
  {x:hiddenX, yL:yAxis('left',0,10,bboaTicks,bboaLabels,70), yR:yAxis('right',0,1.0,c2Ticks,c2Labels,78,null,0), yK:yAxis('right',0,6,kTicks,kLabels,48,'#2255ff',1)},
  [dotDs(c2Dots,'#000','yR',0), Object.assign(dotDs(kDots,C.k,'yK',1),{borderDash:[2,3]}), lineDs(bboaLine,C.bboa,'yL',1.5,2)]);
// Panel 4: SVOOA / NO3-
const arrowPlugin = {id:'arrow', afterDatasetsDraw(chart){
  const {ctx, scales} = chart; const x1 = scales.x.getPixelForValue(arrowSpan[0]), x2 = scales.x.getPixelForValue(arrowSpan[1]);
  const y = scales.yL.getPixelForValue(0) + 0.5;
  ctx.save(); ctx.strokeStyle='#111'; ctx.fillStyle='#111'; ctx.lineWidth=1.5;
  ctx.beginPath(); ctx.moveTo(x1+10,y); ctx.lineTo(x2-10,y); ctx.stroke();
  ctx.beginPath(); ctx.moveTo(x1,y); ctx.lineTo(x1+22,y-4.5); ctx.lineTo(x1+22,y+4.5); ctx.closePath(); ctx.fill();
  ctx.beginPath(); ctx.moveTo(x2,y); ctx.lineTo(x2-22,y-4.5); ctx.lineTo(x2-22,y+4.5); ctx.closePath(); ctx.fill();
  ctx.restore();
}};
makeChart(0, 343, 1206, 114, {top:16, bottom:16, left:0, right:0},
  {x:hiddenX, yL:yAxis('left',0,40,svTicks,svLabels,70), yR:yAxis('right',0,40,no3Ticks,no3Labels,126)},
  [dotDs(no3Dots,'#000','yR',0), lineDs(svooaLine,C.sv,'yL',1.4,1)], [arrowPlugin]);
// Panel 5: LVOOA / SO4 2-
makeChart(0, 452, 1206, 147, {top:16, bottom:0, left:0, right:0},
  {x:bottomX, yL:yAxis('left',0,20,lvTicks,lvLabels,70), yR:yAxis('right',0,35.6,so4Ticks,so4Labels,126)},
  [dotDs(so4Dots,'#000','yR',0), lineDs(lvooaLine,C.lv,'yL',1.3,1)]);

// Inset: SVOOA vs O3, 11/21 - 11/30
const insetBg = {id:'insetBg',
  beforeDraw(chart){ const a = chart.chartArea, ctx = chart.ctx; ctx.save(); ctx.fillStyle='#fff'; ctx.fillRect(a.left,a.top,a.right-a.left,a.bottom-a.top); ctx.restore(); },
  afterDraw(chart){ const a = chart.chartArea, ctx = chart.ctx; ctx.save(); ctx.strokeStyle='#222'; ctx.lineWidth=1.2; ctx.beginPath(); ctx.moveTo(a.left,a.top+0.5); ctx.lineTo(a.right,a.top+0.5); ctx.stroke(); ctx.restore(); }
};
makeChart(470, 333, 280, 100, {top:14, bottom:0, left:0, right:0},
  {x:{type:'linear', min:19.84, max:29.07, position:'bottom',
      afterBuildTicks: s => { s.ticks = insetTickVals.map(v => ({value:v})); },
      afterFit: s => { s.height = 33; },
      ticks:{ callback:(v,i) => insetTickLabels[i], padding:4, autoSkip:false, maxRotation:0, color:'#222', font:{size:13} },
      grid:{ display:true, drawOnChartArea:false, drawTicks:true, tickLength:4, color:'#444', lineWidth:1.2 },
      border:{ display:true, color:'#444', width:1.2 }},
   yL:yAxis('left',-1.67,42.5,inLTicks,inLLabels,52.7,'#33cccc',0,13),
   yR:yAxis('right',-5,127.5,inRTicks,inRLabels,42,'#7a33dd',0,13)},
  [lineDs(svooaLine,C.inCyan,'yL',1.2,1),
   {data:pts(o3Dots), yAxisID:'yR', showLine:false, pointStyle:'rect', pointRadius:2.2, pointBackgroundColor:C.o3, pointBorderColor:C.o3, pointBorderWidth:0, order:0}],
  [insetBg]);
</script>
</body></html>
